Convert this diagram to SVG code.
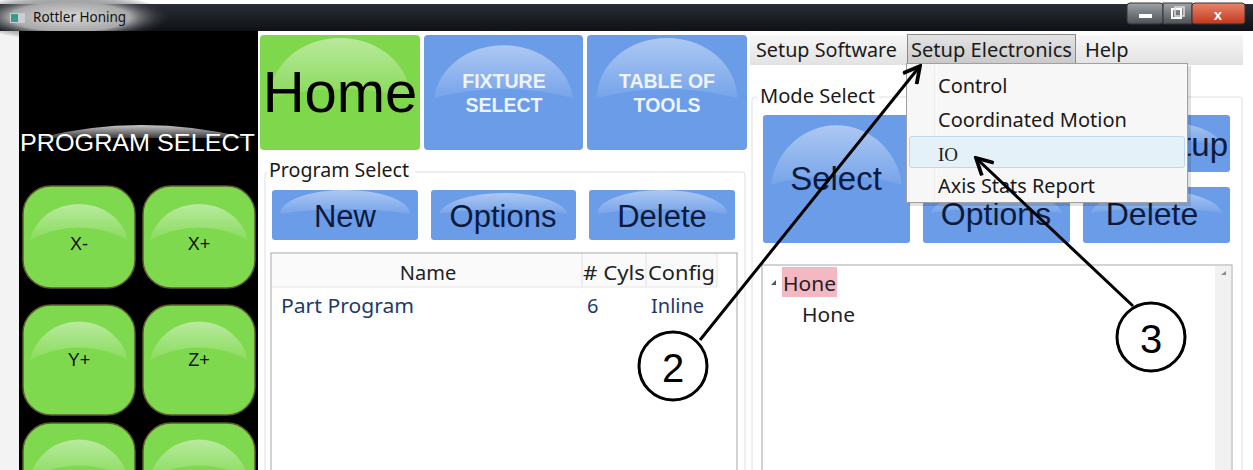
<svg xmlns="http://www.w3.org/2000/svg" width="1253" height="470" viewBox="0 0 1253 470">
<style>
.ui{font-family:"Noto Sans","Open Sans","Liberation Sans",sans-serif}
.ar{font-family:"Liberation Sans",Arial,sans-serif}
.gbtn{fill:#7fd94f;stroke:#5e5a2c;stroke-width:1.5}
.bbtn{fill:#6a9ce8}
.gloss{fill:url(#glossG)}
.btxt{font-family:"Liberation Sans",Arial,sans-serif;fill:#0e1a3c;text-anchor:middle}
.menu{font-family:"Noto Sans","Open Sans",sans-serif;font-size:20px;fill:#1a1a1a}
.list{font-family:"Noto Sans","Open Sans",sans-serif;font-size:20px}
.anno{fill:none;stroke:#000;stroke-width:3}
</style>
<defs>
<linearGradient id="glossG" x1="0" y1="0" x2="0" y2="1">
<stop offset="0" stop-color="#fff" stop-opacity="0.45"/>
<stop offset="1" stop-color="#fff" stop-opacity="0.08"/>
</linearGradient>
<linearGradient id="titleG" x1="0" y1="0" x2="0" y2="1">
<stop offset="0" stop-color="#2a2e34"/>
<stop offset="1" stop-color="#0e1116"/>
</linearGradient>
<radialGradient id="titleGlow" cx="0.5" cy="0.5" r="0.5">
<stop offset="0" stop-color="#d8d8d8"/>
<stop offset="0.6" stop-color="#a8a8a8"/>
<stop offset="1" stop-color="#2a2e34" stop-opacity="0"/>
</radialGradient>
<linearGradient id="menuG" x1="0" y1="0" x2="0" y2="1">
<stop offset="0" stop-color="#f7f7f7"/>
<stop offset="1" stop-color="#e2e2e2"/>
</linearGradient>
<linearGradient id="selG" x1="0" y1="0" x2="0" y2="1">
<stop offset="0" stop-color="#e4e4e4"/>
<stop offset="1" stop-color="#c9c9c9"/>
</linearGradient>
<linearGradient id="winBtn" x1="0" y1="0" x2="0" y2="1">
<stop offset="0" stop-color="#9ea3a8"/>
<stop offset="1" stop-color="#4d5257"/>
</linearGradient>
<linearGradient id="closeG" x1="0" y1="0" x2="0" y2="1">
<stop offset="0" stop-color="#e8866c"/>
<stop offset="1" stop-color="#c2371c"/>
</linearGradient>
<linearGradient id="psGloss" x1="0" y1="0" x2="0" y2="1">
<stop offset="0" stop-color="#c8c8c8"/>
<stop offset="1" stop-color="#3a3a3a"/>
</linearGradient>
<marker id="arr" viewBox="0 0 16 16" refX="14" refY="8" markerWidth="20" markerHeight="20" markerUnits="userSpaceOnUse" orient="auto">
<path d="M1,1 L14,8 L1,15" fill="none" stroke="#000" stroke-width="3"/>
</marker>
</defs>

<rect x="0" y="0" width="1253" height="470" fill="#fff"/>
<rect x="0" y="31" width="19" height="439" fill="#f3f3f3"/>

<g id="titlebar">
<rect x="0" y="4" width="1253" height="27" fill="url(#titleG)"/>
<ellipse cx="70" cy="17" rx="100" ry="24" fill="url(#titleGlow)"/>
<rect x="10" y="13" width="15" height="10" fill="#c9cfd4"/>
<rect x="11" y="14" width="7" height="8" fill="#3c9a8c"/>
<text x="33" y="22" class="ui" font-size="13.5" fill="#111">Rottler Honing</text>
<rect x="1127" y="3" width="36" height="21" rx="3" fill="url(#winBtn)" stroke="#333"/>
<rect x="1139" y="14" width="13" height="4" fill="#fff"/>
<rect x="1163" y="3" width="29" height="21" fill="url(#winBtn)" stroke="#333"/>
<rect x="1172" y="9" width="9" height="9" fill="none" stroke="#fff" stroke-width="2"/>
<rect x="1175" y="7" width="9" height="9" fill="none" stroke="#ddd" stroke-width="1.5"/>
<rect x="1192" y="3" width="53" height="21" rx="3" fill="url(#closeG)" stroke="#333"/>
<text x="1218" y="20" class="ar" font-size="15" font-weight="bold" fill="#fff" text-anchor="middle">x</text>
</g>

<g id="left-panel">
<rect x="19" y="31" width="239" height="439" fill="#000"/>
<path d="M38,138 Q140,112 248,138 Z" fill="url(#psGloss)"/>
<text x="20" y="151" class="ar" font-size="23.5" fill="#fff" textLength="235" lengthAdjust="spacingAndGlyphs">PROGRAM SELECT</text>
</g>

<g id="btn-xminus">
<rect x="23" y="186" width="112" height="102" rx="28" class="gbtn"/>
<path d="M30,240 A50,45 0 0 1 128,240 Q79,215 30,240 Z" class="gloss"/>
<text x="79" y="250" class="ar" font-size="18" fill="#111" text-anchor="middle">X-</text>
</g>
<g id="btn-xplus">
<rect x="143" y="186" width="112" height="102" rx="28" class="gbtn"/>
<path d="M150,240 A50,45 0 0 1 248,240 Q199,215 150,240 Z" class="gloss"/>
<text x="199" y="250" class="ar" font-size="18" fill="#111" text-anchor="middle">X+</text>
</g>
<g id="btn-yplus">
<rect x="23" y="305" width="112" height="110" rx="28" class="gbtn"/>
<path d="M30,360 A50,48 0 0 1 128,360 Q79,335 30,360 Z" class="gloss"/>
<text x="79" y="366" class="ar" font-size="18" fill="#111" text-anchor="middle">Y+</text>
</g>
<g id="btn-zplus">
<rect x="143" y="305" width="112" height="110" rx="28" class="gbtn"/>
<path d="M150,360 A50,48 0 0 1 248,360 Q199,335 150,360 Z" class="gloss"/>
<text x="199" y="366" class="ar" font-size="18" fill="#111" text-anchor="middle">Z+</text>
</g>
<g id="btn-row3a">
<rect x="23" y="423" width="112" height="110" rx="28" class="gbtn"/>
<path d="M30,478 A50,48 0 0 1 128,478 Q79,453 30,478 Z" class="gloss"/>
</g>
<g id="btn-row3b">
<rect x="143" y="423" width="112" height="110" rx="28" class="gbtn"/>
<path d="M150,478 A50,48 0 0 1 248,478 Q199,453 150,478 Z" class="gloss"/>
</g>

<g id="nav-home">
<rect x="260" y="35" width="160" height="115" rx="4" fill="#7fd74b"/>
<path d="M270,98 A70,60 0 0 1 410,98 Q340,80 270,98 Z" class="gloss"/>
<text x="340" y="112" class="ar" font-size="58" fill="#000" text-anchor="middle">Home</text>
</g>
<g id="nav-fixture">
<rect x="424" y="35" width="159" height="115" rx="4" class="bbtn"/>
<path d="M434,98 A70,60 0 0 1 573,98 Q503,80 434,98 Z" class="gloss"/>
<text x="504" y="88" class="ar" font-size="19.5" font-weight="bold" fill="#eef3fc" text-anchor="middle">FIXTURE</text>
<text x="504" y="112" class="ar" font-size="19.5" font-weight="bold" fill="#eef3fc" text-anchor="middle">SELECT</text>
</g>
<g id="nav-tools">
<rect x="587" y="35" width="160" height="115" rx="4" class="bbtn"/>
<path d="M597,98 A70,60 0 0 1 737,98 Q667,80 597,98 Z" class="gloss"/>
<text x="667" y="88" class="ar" font-size="19.5" font-weight="bold" fill="#eef3fc" text-anchor="middle">TABLE OF</text>
<text x="667" y="112" class="ar" font-size="19.5" font-weight="bold" fill="#eef3fc" text-anchor="middle">TOOLS</text>
</g>

<g id="program-select">
<rect x="265" y="172" width="480" height="310" rx="3" fill="none" stroke="#d8e0e6"/>
<rect x="267" y="158" width="148" height="22" fill="#fff"/>
<text x="269" y="177" class="ui" font-size="19" fill="#1a1a1a" textLength="140" lengthAdjust="spacingAndGlyphs">Program Select</text>
</g>
<g id="btn-new">
<rect x="272" y="190" width="146" height="50" rx="3" class="bbtn"/>
<path d="M280,214 A65,24 0 0 1 410,214 Q345,204 280,214 Z" class="gloss"/>
<text x="345" y="227" class="btxt" font-size="31">New</text>
</g>
<g id="btn-options">
<rect x="431" y="190" width="145" height="50" rx="3" class="bbtn"/>
<path d="M439,214 A65,24 0 0 1 568,214 Q503,204 439,214 Z" class="gloss"/>
<text x="503" y="227" class="btxt" font-size="31">Options</text>
</g>
<g id="btn-delete">
<rect x="589" y="190" width="146" height="50" rx="3" class="bbtn"/>
<path d="M597,214 A65,24 0 0 1 727,214 Q662,204 597,214 Z" class="gloss"/>
<text x="662" y="227" class="btxt" font-size="31">Delete</text>
</g>

<g id="program-list">
<rect x="271" y="253" width="466" height="230" fill="#fff" stroke="#a6a6a6"/>
<rect x="272" y="254" width="445" height="33" fill="#fafafa"/>
<line x1="272" y1="287" x2="717" y2="287" stroke="#e6e6e6"/>
<line x1="582" y1="254" x2="582" y2="287" stroke="#e2e2e2"/>
<line x1="646" y1="254" x2="646" y2="287" stroke="#e2e2e2"/>
<line x1="717" y1="254" x2="717" y2="287" stroke="#e2e2e2"/>
<text x="428" y="280" class="list" fill="#222" text-anchor="middle">Name</text>
<text x="583" y="280" class="list" fill="#222" textLength="62" lengthAdjust="spacingAndGlyphs"># Cyls</text>
<text x="648" y="280" class="list" fill="#222" textLength="67" lengthAdjust="spacingAndGlyphs">Config</text>
<text x="281" y="313" class="list" fill="#213a6b" textLength="133" lengthAdjust="spacingAndGlyphs">Part Program</text>
<text x="587" y="313" class="list" fill="#213a6b">6</text>
<text x="651" y="313" class="list" fill="#213a6b">Inline</text>
</g>

<g id="mode-select">
<rect x="752" y="97" width="490" height="385" rx="3" fill="none" stroke="#d8e0e6"/>
<rect x="757" y="85" width="122" height="22" fill="#fff"/>
<text x="760" y="103" class="ui" font-size="20" fill="#1a1a1a" textLength="115" lengthAdjust="spacingAndGlyphs">Mode Select</text>
</g>
<g id="btn-select">
<rect x="763" y="115" width="147" height="128" rx="3" class="bbtn"/>
<path d="M771,185 A66,68 0 0 1 902,185 Q836,165 771,185 Z" class="gloss"/>
<text x="836" y="190" class="btxt" font-size="33">Select</text>
</g>
<g id="btn-setup">
<rect x="1083" y="115" width="147" height="57" rx="3" class="bbtn"/>
<path d="M1091,145 A66,27 0 0 1 1222,145 Q1156,135 1091,145 Z" class="gloss"/>
<text x="1228" y="156" class="ar" font-size="33" fill="#0e1a3c" text-anchor="end">Setup</text>
</g>
<g id="btn-options2">
<rect x="923" y="187" width="147" height="56" rx="3" class="bbtn"/>
<path d="M931,213 A66,26 0 0 1 1062,213 Q996,203 931,213 Z" class="gloss"/>
<text x="996" y="225" class="btxt" font-size="32">Options</text>
</g>
<g id="btn-delete2">
<rect x="1083" y="187" width="147" height="56" rx="3" class="bbtn"/>
<path d="M1091,213 A66,26 0 0 1 1222,213 Q1156,203 1091,213 Z" class="gloss"/>
<text x="1152" y="225" class="btxt" font-size="32">Delete</text>
</g>

<g id="tree-view">
<rect x="762" y="265" width="470" height="220" fill="#fff" stroke="#a8a8a8"/>
<rect x="1215" y="266" width="16" height="210" fill="#f1f1f1"/>
<path d="M1221,275 L1226,275 L1226,271 Z" fill="#888"/>
<path d="M771,285 L776,285 L776,280 Z" fill="#555"/>
<rect x="782" y="267" width="55" height="30" fill="#f4b8c2"/>
<text x="783" y="291" class="list" fill="#222" textLength="53" lengthAdjust="spacingAndGlyphs">Hone</text>
<text x="802" y="322" class="list" fill="#222" textLength="53" lengthAdjust="spacingAndGlyphs">Hone</text>
</g>

<g id="menubar">
<rect x="750" y="35" width="493" height="30" fill="url(#menuG)"/>
<text x="756" y="57" class="menu" textLength="141" lengthAdjust="spacingAndGlyphs">Setup Software</text>
<rect x="907.5" y="34.5" width="168" height="29" fill="url(#selG)" stroke="#8a8a8a"/>
<text x="911" y="57" class="menu" textLength="161" lengthAdjust="spacingAndGlyphs">Setup Electronics</text>
<text x="1085" y="57" class="menu">Help</text>
</g>

<g id="dropdown">
<rect x="909" y="66" width="282" height="140" fill="#000" opacity="0.12"/>
<rect x="906.5" y="63.5" width="281" height="139" fill="#f7f7f7" stroke="#a0a0a0"/>
<line x1="935" y1="65" x2="935" y2="201" stroke="#e2e3e3"/>
<line x1="936" y1="65" x2="936" y2="201" stroke="#fff"/>
<text x="938" y="93" class="menu">Control</text>
<text x="938" y="127" class="menu" textLength="189" lengthAdjust="spacingAndGlyphs">Coordinated Motion</text>
<rect x="909.5" y="136.5" width="275" height="31" rx="2" fill="#e5f1f8" stroke="#bcd8ea"/>
<text x="938" y="161" font-family="Liberation Serif,serif" font-size="19" fill="#1a1a1a">IO</text>
<text x="938" y="193" class="menu" textLength="157" lengthAdjust="spacingAndGlyphs">Axis Stats Report</text>
</g>

<g id="connectors">
<line x1="700" y1="340" x2="920" y2="66" class="anno" marker-end="url(#arr)"/>
<line x1="1133" y1="306" x2="976" y2="158" class="anno" marker-end="url(#arr)"/>
</g>
<g id="callout-2">
<circle cx="673" cy="366" r="34" fill="none" stroke="#000" stroke-width="3"/>
<text x="673" y="382" class="ar" font-size="40" fill="#000" text-anchor="middle">2</text>
</g>
<g id="callout-3">
<circle cx="1151" cy="337" r="34" fill="none" stroke="#000" stroke-width="3"/>
<text x="1151" y="353" class="ar" font-size="40" fill="#000" text-anchor="middle">3</text>
</g>
</svg>
